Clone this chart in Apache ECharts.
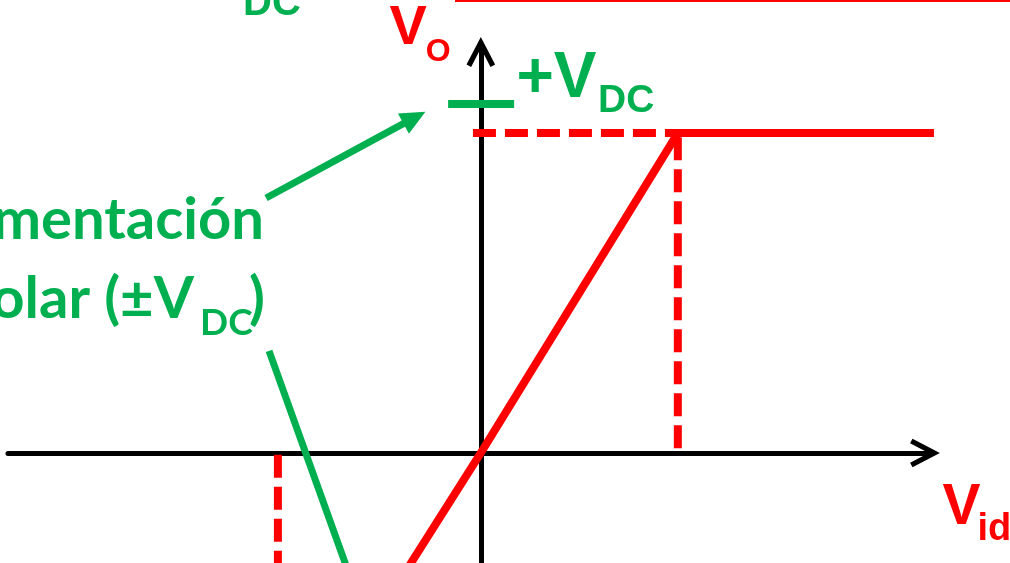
<!DOCTYPE html>
<html>
<head>
<meta charset="utf-8">
<script src="https://cdn.jsdelivr.net/npm/echarts@6/dist/echarts.min.js"></script>
<style>
  html, body { margin: 0; padding: 0; background: #fff; }
  #chart { width: 1010px; height: 563px; }
</style>
</head>
<body>
<div id="chart"></div>
<script>
// Vo(Vid) transfer curve, x in units of Vid at saturation, y in units of VDC
const transfer = [[-2.4, -1], [-1.03, -1], [0, 0], [1, 1], [2.3, 1]]
// dashed guides to the saturation points
const guideTop = [[-0.04, 1], [1, 1]]
const guideRight = [[1, 0.015], [1, 1]]
const guideLeft = [[-1.03, -0.006], [-1.03, -0.5]]
// green +VDC mark and the two callout lines
const vdcMark = [[-0.166, 1.091], [0.169, 1.091]]
const calloutArrow = [[-1.09, 0.797], [-0.337, 1.048]]
const calloutLine = [[-1.075, 0.319], [-0.585, -0.522]]

const RED = '#ff0000'
const GREEN = '#00b050'
const ARIAL = '"Liberation Sans", Arial, sans-serif'
const HUMANIST = 'Lato, "Open Sans", sans-serif'
// open chevron, pointing up
const CHEVRON = 'path://M14.3,0 L28.6,27.4 L24,29.8 L14.3,11.2 L4.6,29.8 L0,27.4 Z'

const lineSeries = (data, color, width, dash) => ({
  type: 'line',
  data: data,
  symbol: 'none',
  clip: false,
  silent: true,
  animation: false,
  lineStyle: { color: color, width: width, type: dash || 'solid', cap: 'butt', join: 'miter' }
})

const txt = (text, x, y, size, color, family, align) => ({
  type: 'text',
  x: x,
  y: y,
  z: 100,
  silent: true,
  style: {
    text: text,
    fill: color,
    font: 'bold ' + size + 'px ' + family,
    align: align || 'left',
    verticalAlign: 'middle'
  }
})

const axisCommon = {
  type: 'value',
  axisLine: {
    show: true,
    onZero: true,
    symbol: ['none', CHEVRON],
    symbolSize: [28.6, 29.8],
    symbolOffset: [0, -5],
    lineStyle: { color: '#000', width: 5 }
  },
  axisTick: { show: false },
  axisLabel: { show: false },
  splitLine: { show: false }
}

const arrowSeries = lineSeries(calloutLine, GREEN, 7)
arrowSeries.markLine = {
  silent: true,
  animation: false,
  symbol: ['none', 'triangle'],
  label: { show: false },
  lineStyle: { color: GREEN, width: 7, type: 'solid', cap: 'butt' },
  data: [[
    { coord: calloutArrow[0], symbol: 'none' },
    { coord: calloutArrow[1], symbol: 'triangle', symbolSize: [23, 25] }
  ]]
}

const chart = echarts.init(document.getElementById('chart'))
chart.setOption({
  animation: false,
  grid: { left: 8, right: 80, top: 47, bottom: 0, containLabel: false, outerBoundsMode: 'none' },
  xAxis: Object.assign({}, axisCommon, { min: -2.4, max: 2.28 }),
  yAxis: Object.assign({}, axisCommon, { min: -0.344, max: 1.269 }),
  series: [
    lineSeries(guideTop, RED, 8, [23, 9]),
    lineSeries(guideRight, RED, 8, [23, 9]),
    lineSeries(guideLeft, RED, 8, [23, 9]),
    lineSeries(transfer, RED, 8),
    lineSeries(vdcMark, GREEN, 8),
    arrowSeries
  ],
  graphic: [
    { type: 'rect', z: 100, silent: true, shape: { x: 455, y: 0, width: 555, height: 2 }, style: { fill: RED } },
    txt('V', 389.5, 28.6, 56, RED, ARIAL),
    txt('O', 425.7, 52.4, 32, RED, ARIAL),
    txt('+V', 516.4, 79.8, 64, GREEN, ARIAL),
    txt('DC', 598, 101.5, 39, GREEN, ARIAL),
    txt('V', 942.5, 508, 57, RED, ARIAL),
    txt('id', 977.4, 529.8, 38, RED, ARIAL),
    txt('V', 200.7, -20.2, 64, GREEN, ARIAL),
    txt('DC', 243, 3.5, 40, GREEN, ARIAL),
    txt('Alimentación', 264, 220.6, 58, GREEN, HUMANIST, 'right'),
    txt('bipolar (±V', 194, 299.6, 58, GREEN, HUMANIST, 'right'),
    txt('DC', 200, 322.7, 37, GREEN, HUMANIST),
    txt(')', 249, 299.6, 58, GREEN, HUMANIST)
  ]
})
</script>
</body>
</html>
